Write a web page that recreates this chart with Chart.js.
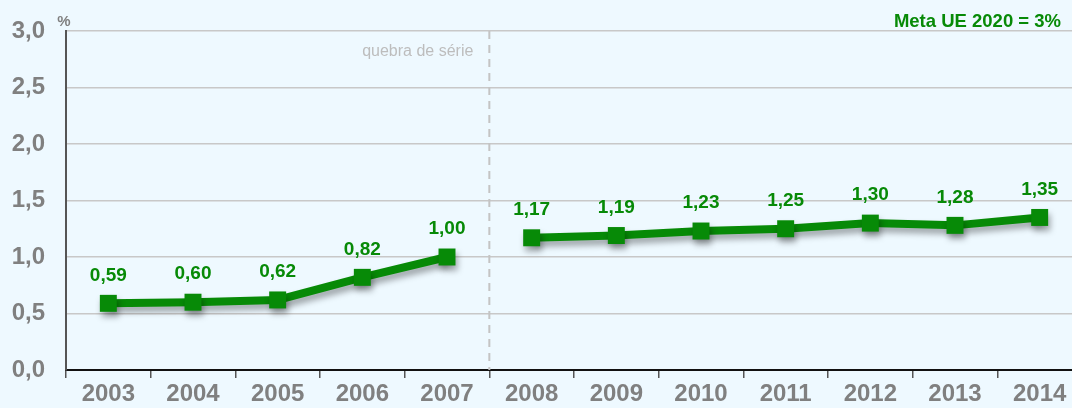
<!DOCTYPE html>
<html>
<head>
<meta charset="utf-8">
<script src="https://cdn.jsdelivr.net/npm/chart.js@4"></script>
<style>
  html, body { margin: 0; padding: 0; background: #eef9ff; overflow: hidden; }
  #wrap { width: 1094px; height: 408px; position: relative; }
  #chart { width: 1094px; height: 408px; }
</style>
</head>
<body>
<div id="wrap"><canvas id="chart" width="1094" height="408"></canvas></div>
<script>
// Data
const years = ["2003", "2004", "2005", "2006", "2007", "2008", "2009", "2010", "2011", "2012", "2013", "2014"]
const beforeBreak = [0.59, 0.60, 0.62, 0.82, 1.00, null, null, null, null, null, null, null]
const afterBreak = [null, null, null, null, null, 1.17, 1.19, 1.23, 1.25, 1.30, 1.28, 1.35]
const yTicks = [0, 0.5, 1.0, 1.5, 2.0, 2.5, 3.0]

const green = "#078a07"
const gray = "#808080"
const font = "Arial, 'Liberation Sans', sans-serif"

const fmt = (v) => v.toFixed(2).replace(".", ",")

// shadow under the line
const shadowPlugin = {
  id: "shadow",
  beforeDatasetDraw(chart) {
    const ctx = chart.ctx
    ctx.save()
    ctx.shadowColor = "rgba(0,0,0,0.35)"
    ctx.shadowBlur = 6
    ctx.shadowOffsetX = 2
    ctx.shadowOffsetY = 5
  },
  afterDatasetDraw(chart) {
    chart.ctx.restore()
  },
}

// labels, break line and notes
const extrasPlugin = {
  id: "extras",
  beforeDatasetsDraw(chart) {
    const ctx = chart.ctx
    const area = chart.chartArea
    const x = chart.scales.x
    const xb = (x.getPixelForValue(4) + x.getPixelForValue(5)) / 2
    ctx.save()
    ctx.strokeStyle = "#c4c4c4"
    ctx.lineWidth = 2
    ctx.setLineDash([8, 6])
    ctx.beginPath()
    ctx.moveTo(xb, area.top)
    ctx.lineTo(xb, area.bottom)
    ctx.stroke()
    ctx.setLineDash([])
    ctx.font = "16px " + font
    ctx.fillStyle = "#bdbdbd"
    ctx.textAlign = "right"
    ctx.textBaseline = "middle"
    ctx.fillText("quebra de série", xb - 16, area.top + 21)
    ctx.restore()
  },
  afterDraw(chart) {
    const ctx = chart.ctx
    const area = chart.chartArea
    ctx.save()
    ctx.font = "bold 19px " + font
    ctx.fillStyle = green
    ctx.textAlign = "center"
    ctx.textBaseline = "middle"
    chart.data.datasets.forEach((ds, i) => {
      const meta = chart.getDatasetMeta(i)
      ds.data.forEach((v, j) => {
        if (v === null) return
        const p = meta.data[j]
        ctx.fillText(fmt(v), p.x, p.y - 28)
      })
    })
    ctx.textAlign = "right"
    ctx.font = "bold 18.5px " + font
    ctx.fillText("Meta UE 2020 = 3%", 1061, area.top - 9)
    ctx.fillStyle = gray
    ctx.textAlign = "center"
    ctx.font = "bold 15px " + font
    ctx.fillText("%", area.left - 2, area.top - 9)
    ctx.restore()
  },
}

const lineStyle = {
  borderColor: green,
  backgroundColor: green,
  borderWidth: 8,
  pointStyle: "rect",
  pointRadius: 12,
  pointHoverRadius: 12,
  pointBorderWidth: 0,
  tension: 0,
  spanGaps: false,
}

new Chart(document.getElementById("chart"), {
  type: "line",
  data: {
    labels: years,
    datasets: [
      Object.assign({ data: beforeBreak }, lineStyle),
      Object.assign({ data: afterBreak }, lineStyle),
    ],
  },
  options: {
    responsive: false,
    animation: false,
    layout: { padding: { top: 31, right: 0, left: 0, bottom: 0 } },
    plugins: {
      legend: { display: false },
      tooltip: { enabled: false },
    },
    scales: {
      x: {
        offset: true,
        grid: {
          offset: true,
          drawOnChartArea: false,
          drawTicks: true,
          tickLength: 8,
          color: "#555",
          lineWidth: 1.5,
        },
        border: { color: "#111", width: 2 },
        ticks: {
          color: gray,
          font: { family: font, size: 24, weight: "bold" },
          padding: 2,
          maxRotation: 0,
        },
        afterFit(scale) {
          scale.height = 38
        },
      },
      y: {
        min: 0,
        max: 3,
        afterBuildTicks(scale) {
          scale.ticks = yTicks.map((v) => ({ value: v }))
        },
        grid: {
          color: "#c8c8c8",
          lineWidth: 1.5,
          drawTicks: true,
          tickLength: 21,
          tickColor: "rgba(0,0,0,0)",
        },
        border: { color: "#555", width: 2 },
        ticks: {
          color: gray,
          font: { family: font, size: 24, weight: "bold" },
          padding: 0,
          callback: (v) => v.toFixed(1).replace(".", ","),
        },
        afterFit(scale) {
          scale.width = 66
        },
      },
    },
  },
  plugins: [shadowPlugin, extrasPlugin],
})
</script>
</body>
</html>
